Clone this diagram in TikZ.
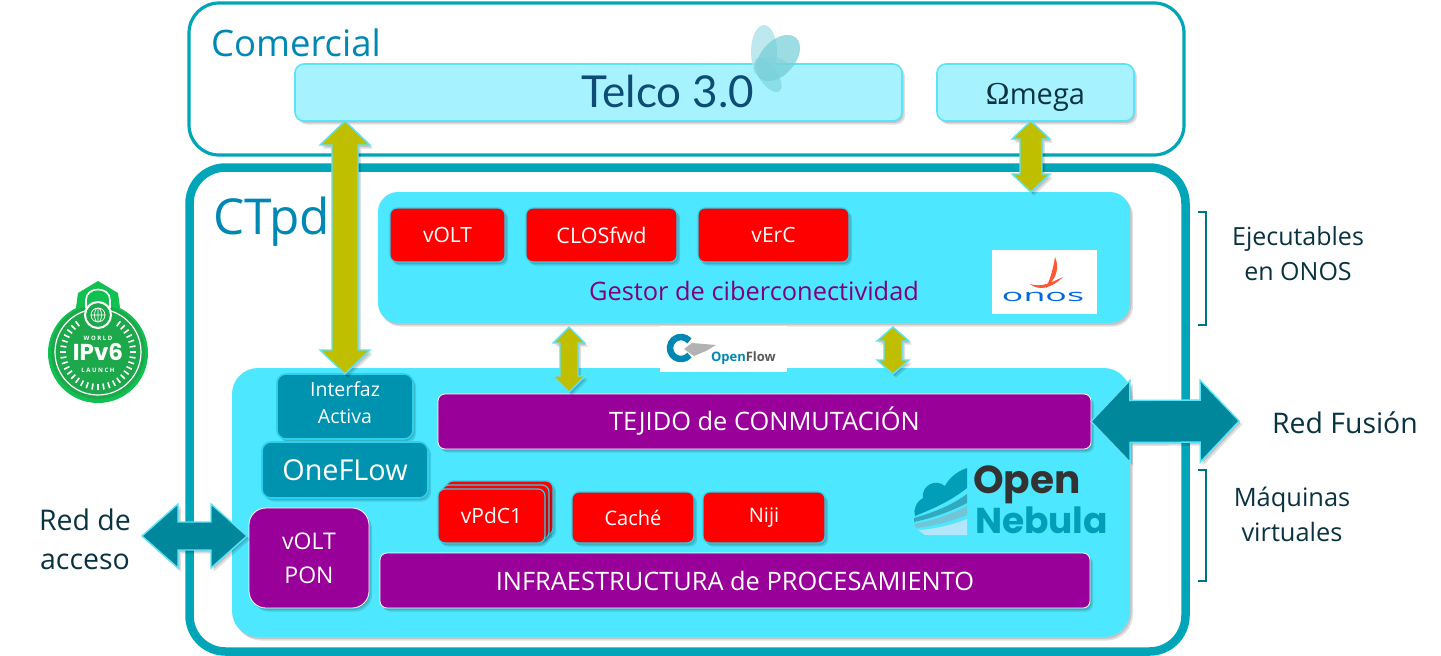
\documentclass[tikz,border=0pt]{standalone}
\usepackage{fontspec}
\setmainfont{Open Sans}
\newfontfamily\logofont{Poppins}
\newfontfamily\telcofont{Lato}
\newfontfamily\serifont{Liberation Serif}
\usetikzlibrary{calc,shadows,positioning}
\definecolor{teal1}{HTML}{00A6B8}
\definecolor{cyanA}{HTML}{4DE8FF}
\definecolor{cyanB}{HTML}{A6F3FF}
\definecolor{edgeB}{HTML}{5CE3FA}
\definecolor{purp}{HTML}{990099}
\definecolor{purpt}{HTML}{800080}
\definecolor{olive}{HTML}{BFBF00}
\definecolor{tealbox}{HTML}{0093B0}
\definecolor{tealedge}{HTML}{2BD0EE}
\definecolor{tealarrow}{HTML}{00879B}
\definecolor{ttl}{HTML}{0088B4}
\definecolor{darktxt}{HTML}{0A3342}
\definecolor{green1}{HTML}{1EA84C}
\definecolor{green2}{HTML}{10C050}
\definecolor{telcot}{HTML}{0F4C75}
\newcommand\fs[1]{\fontsize{#1}{#1}\selectfont}
\newcommand\fss[2]{\fontsize{#1}{#2}\selectfont}
\tikzset{
  softshadow/.style={general shadow={shadow xshift=1.5pt,shadow yshift=-2pt,fill=black,opacity=.12},
                     general shadow={shadow xshift=3pt,shadow yshift=-3.5pt,fill=black,opacity=.12}},
  base/.style={rectangle,inner sep=0pt,outer sep=0pt,align=center},
  panel/.style={base,draw=edgeB,line width=1.6pt,fill=cyanB,rounded corners=9pt,softshadow},
  zone/.style={base,fill=cyanA,softshadow},
  redbox/.style={base,fill=red,draw=tealedge,line width=1.2pt,rounded corners=7pt,text=white,softshadow},
  purpbox/.style={base,fill=purp,draw=white,line width=.8pt,rounded corners=7pt,text=white,softshadow},
  tealnode/.style={base,fill=tealbox,draw=tealedge,line width=1.6pt,rounded corners=9pt,text=white,softshadow},
  olivearrow/.style={fill=olive,draw=edgeB,line width=1.4pt,miter limit=10,softshadow},
  tealfat/.style={fill=tealarrow,draw=edgeB,line width=1.4pt,softshadow},
  brace/.style={draw=tealarrow!85!black,line width=1.8pt},
  lbl/.style={base,text=darktxt},
}
\newcommand\fatarrow[6]{%
  \coordinate (fa1) at #1; \coordinate (fa2) at #2;
  \coordinate (fh1) at ($(fa1)!#3!(fa2)$); \coordinate (fh2) at ($(fa2)!#3!(fa1)$);
  \draw[#6] (fa1) -- ($(fh1)!#4!90:(fa2)$) -- ($(fh1)!#5!90:(fa2)$) -- ($(fh2)!#5!-90:(fa1)$)
    -- ($(fh2)!#4!-90:(fa1)$) -- (fa2) -- ($(fh2)!#4!90:(fa1)$) -- ($(fh2)!#5!90:(fa1)$)
    -- ($(fh1)!#5!-90:(fa2)$) -- ($(fh1)!#4!-90:(fa2)$) -- cycle;}
\begin{document}
\begin{tikzpicture}[x=1pt,y=-1pt]
\useasboundingbox (0,0) rectangle (1441,656);
\fill[white] (0,0) rectangle (1441,656);

% outer frames
\node[base,draw=teal1,line width=3.2pt,rounded corners=30pt,minimum width=995pt,minimum height=152pt] (comercial) at (686.5,79) {};
\node[base,draw=teal1,line width=8.5pt,rounded corners=36pt,minimum width=996pt,minimum height=484pt] (ctpd) at (687.5,409.5) {};
\node[base,text=ttl,anchor=west,font=\fs{36.5}] (comtxt) at (211,43) {Comercial};
\node[base,text=ttl,anchor=west,font=\fs{49.5}] (ctpdtxt) at (213,222) {CTpd};

% zones
\node[zone,rounded corners=20pt,minimum width=752pt,minimum height=131pt] (gestor) at (754,257.5) {};
\node[zone,rounded corners=26pt,minimum width=898pt,minimum height=269pt] (infra) at (681,502.5) {};

% commercial panels
\node[panel,minimum width=607pt,minimum height=57pt] (telco) at (598.5,92.5) {};
\node[base,text=telcot,font=\telcofont\fs{44}] (telcotxt) at (668,91) {Telco 3.0};
\node[panel,minimum width=197pt,minimum height=57pt,text=darktxt,font=\fs{29}] (omega) at (1035.5,92.5) {\raisebox{-11.5pt}[0pt][0pt]{{\serifont\fs{32}Ω}mega}};

% butterfly
\fill[teal1!30,opacity=.85] (764,52) ellipse (13 and 27);
\fill[teal1!55,opacity=.7,rotate around={-42:(778,58)}] (778,58) ellipse (17 and 27);
\fill[teal1!55,opacity=.55,rotate around={35:(768,75)}] (768,75) ellipse (9 and 20);
\fill[teal1!50,opacity=.55] (771,68) ellipse (18 and 11);

% gestor content
\node[redbox,minimum width=115pt,minimum height=54pt,font=\fs{21}] (volt) at (447.5,235) {vOLT};
\node[redbox,minimum width=151pt,minimum height=54pt,font=\fs{21.5}] (closfwd) at (601.5,235) {CLOSfwd};
\node[redbox,minimum width=151pt,minimum height=54pt,font=\fs{21}] (verc) at (773.5,235) {vErC};
\node[base,text=purpt,font=\fs{25.4}] (gestxt) at (754,291) {Gestor de ciberconectividad};

% ONOS logo
\node[base,fill=white,minimum width=105pt,minimum height=64pt] (onoslogo) at (1044.5,282) {};
\fill[red!65!orange!80!white] (1055,257) .. controls (1060,268) and (1056,279) .. (1046,288)
  .. controls (1050,279) and (1053,270) .. (1055,257) -- cycle;
\fill[red!65!orange!80!white] (1030,284) .. controls (1042,288) and (1052,282) .. (1063,277)
  .. controls (1053,287) and (1040,292) .. (1030,284) -- cycle;
\node[base,text=blue!55!cyan!90!black,xscale=2.1,font=\fs{17}] (onostxt) at (1043,297) {onos};

% OpenFlow logo
\node[base,fill=white,minimum width=127pt,minimum height=46pt] (oflogo) at (723.5,349) {};
\draw[draw=ttl,line width=6.5pt] (681,348) ++(40:11pt) arc[start angle=40,end angle=320,radius=11pt];
\fill[black!30] (684,349) -- (692,343) -- (716,345) -- (706,351) -- (694,356) -- cycle;
\node[base,anchor=west,font=\fs{13}\bfseries] (oftxt) at (711,358) {\color{ttl}Open\color{black!65}Flow};

% infra content
\node[tealnode,minimum width=136pt,minimum height=65pt,font=\fss{19.5}{27}] (iface) at (345,406.5) {\raisebox{-3pt}[0pt][0pt]{Interfaz}\\\raisebox{-3pt}[0pt][0pt]{Activa}};
\node[tealnode,minimum width=166pt,minimum height=56pt,font=\fs{28.8}] (oneflow) at (345,470) {OneFLow};
\node[purpbox,rounded corners=17pt,minimum width=120pt,minimum height=100pt,font=\fss{23}{34}] (voltpon) at (309,558) {vOLT\\PON};
\node[purpbox,minimum width=653pt,minimum height=55pt,font=\fs{25.4}] (tejido) at (764.5,421.5) {TEJIDO de CONMUTACIÓN};
\node[purpbox,minimum width=710pt,minimum height=55pt,font=\fs{25.4}] (procesa) at (735,580.5) {INFRAESTRUCTURA de PROCESAMIENTO};
\node[redbox,minimum width=107pt,minimum height=54pt] (stack3) at (499.5,508) {};
\node[redbox,minimum width=107pt,minimum height=54pt] (stack2) at (495.5,512) {};
\node[redbox,minimum width=107pt,minimum height=54pt,font=\fs{21}] (vpdc) at (491.5,516) {vPdC1};
\node[redbox,minimum width=122pt,minimum height=51pt,font=\fs{20}] (cache) at (633,517.5) {Caché};
\node[redbox,minimum width=122pt,minimum height=51pt,font=\fs{20}] (niji) at (764,517.5) {Niji};

% OpenNebula logo
\fill[tealbox!90!cyan] (967,468) .. controls (955,472) and (948,480) .. (945,486)
  .. controls (935,478) and (921,486) .. (923,498) .. controls (916,502) and (913,510) .. (915,516)
  .. controls (935,508) and (952,500) .. (967,488) -- cycle;
\fill[tealbox!80!white] (914,518) .. controls (935,512) and (952,505) .. (967,494) -- (967,503) .. controls (950,512) and (932,518) .. (914,522) -- cycle;
\fill[tealbox!55!white] (914,524) .. controls (935,520) and (952,514) .. (967,506) -- (967,515) .. controls (950,522) and (932,526) .. (916,528) -- cycle;
\fill[white!70!cyan] (918,530) .. controls (935,529) and (952,525) .. (967,519) -- (967,535) -- (925,535) -- cycle;
\node[base,anchor=west,text=black!80,font=\logofont\bfseries\fs{39}] (opentxt) at (973,485) {Open};
\node[base,anchor=west,text=tealbox!90!cyan,font=\logofont\bfseries\fs{36}] (nebtxt) at (975,520) {Nebula};

% IPv6 logo
\fill[green2] (98,281) -- (118,293) -- (121,315) -- (75,315) -- (78,293) -- cycle;
\fill[green2] (98,353) circle (50);
\fill[green1] (98,352) circle (47);
\draw[white,line width=1.2pt] (98,352) circle (43);
\foreach \a in {0,9,...,351}{
  \ifnum\a>239 \ifnum\a<301 \else
  \draw[white,line width=1.6pt] ({98+32*cos(\a)},{352+32*sin(\a)}) -- ({98+38*cos(\a)},{352+38*sin(\a)});
  \fi\else
  \draw[white,line width=1.6pt] ({98+32*cos(\a)},{352+32*sin(\a)}) -- ({98+38*cos(\a)},{352+38*sin(\a)});
  \fi}
\draw[white,line width=2pt,fill=green1] (98,315) circle (13);
\draw[white,line width=1.6pt] (86,308) -- (86,300) .. controls (86,286) and (110,286) .. (110,300) -- (110,308);
\draw[white,line width=.7pt] (98,315) circle (7) (91,315) -- (105,315) (98,308) -- (98,322) (98,315) ellipse (3.5 and 7);
\node[base,text=white,font=\fs{6}\bfseries] (wtxt) at (98,338) {W O R L D};
\node[base,text=white,font=\logofont\bfseries\fs{23}] (ipv6txt) at (98,352) {IPv6};
\node[base,text=white,font=\fs{6}\bfseries] (ltxt) at (98,370) {L A U N C H};

% connectors
\coordinate (portL) at (569,360);
\coordinate (portR) at (893,360);
\fatarrow{(iface.north |- telco.south)}{(iface.north)}{24pt}{25pt}{13pt}{olivearrow}
\fatarrow{($(omega.south)+(-4.5,0)$)}{($(gestor.north -| omega.south)+(-4.5,0)$)}{18pt}{19pt}{11pt}{olivearrow}
\fatarrow{($(portL |- gestor.south)+(0,4)$)}{($(portL |- tejido.north)+(0,-2)$)}{16pt}{16pt}{9pt}{olivearrow}
\fatarrow{($(portR |- gestor.south)+(0,4)$)}{($(portR |- infra.north)+(0,6)$)}{14pt}{16pt}{9pt}{olivearrow}

% side labels
\node[lbl,font=\fs{28.4}] (fusion) at (1345,423) {Red Fusión};
\node[lbl,font=\fss{28.5}{39}] (acceso) at (85,539) {Red de\\acceso};
\fatarrow{(tejido.east)}{($(fusion.west)+(-33,-2)$)}{39pt}{41pt}{21pt}{tealfat}
\fatarrow{($(voltpon.west)+(-2,-22)$)}{($(voltpon.west)+(-107,-22)$)}{36pt}{32pt}{14pt}{tealfat}

\node[lbl,font=\fss{25}{35}] (ejec) at (1298,254) {Ejecutables\\en ONOS};
\node[lbl,font=\fss{25.4}{35}] (maq) at (1292,514) {Máquinas\\virtuales};
\coordinate (brA) at (1206,212);
\coordinate (brB) at (1206,325);
\coordinate (brC) at (1206,470);
\coordinate (brD) at (1206,581);
\draw[brace] ($(brA)+(-8,0)$) -- (brA) -- (brB) -- ($(brB)+(-8,0)$);
\draw[brace] ($(brC)+(-8,0)$) -- (brC) -- (brD) -- ($(brD)+(-8,0)$);
\end{tikzpicture}
\end{document}
